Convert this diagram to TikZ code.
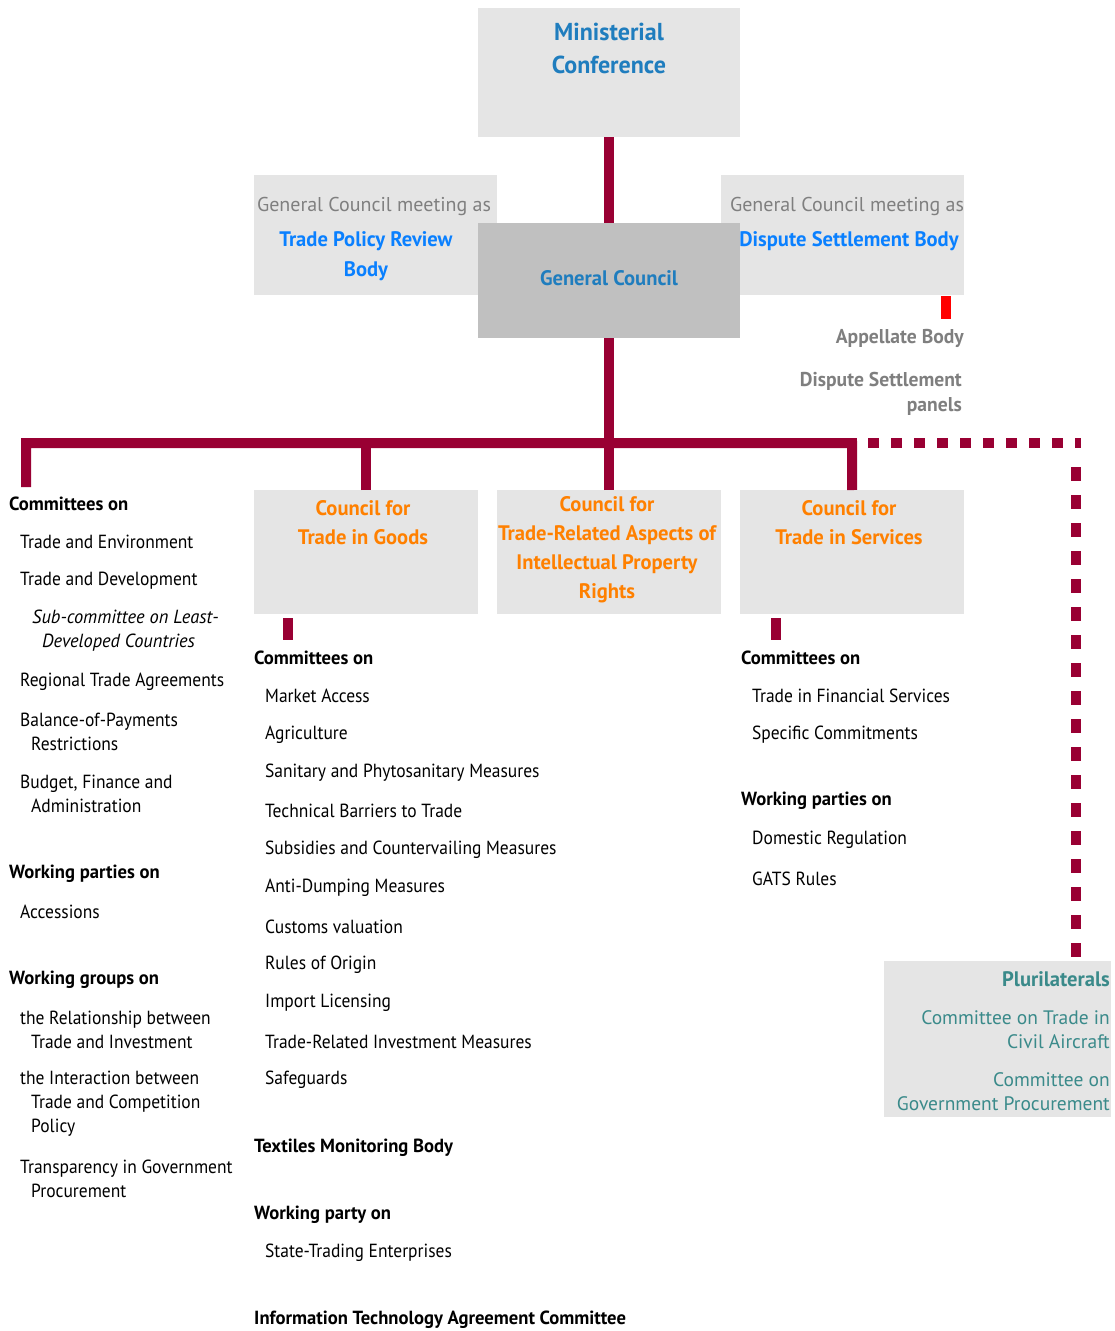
\documentclass[tikz,border=0pt]{standalone}
\usepackage{fontspec}
\setmainfont{PT Sans}[FakeStretch=0.92, BoldFeatures={FakeStretch=0.98}, ItalicFeatures={FakeStretch=0.97}]
\newfontfamily\widefont{PT Sans}
\usetikzlibrary{calc}
\definecolor{wmaroon}{HTML}{990033}
\definecolor{boxgray}{HTML}{E5E5E5}
\definecolor{gcgray}{HTML}{C0C0C0}
\definecolor{titleblue}{HTML}{1F7DBE}
\definecolor{brightblue}{HTML}{0A80FF}
\definecolor{worange}{HTML}{FF8000}
\definecolor{txtgray}{HTML}{7F7F7F}
\definecolor{wteal}{HTML}{3A8A8A}
\tikzset{
  box/.style={fill=boxgray, draw=none, inner sep=0, anchor=north west},
  conn/.style={line width=10pt, draw=wmaroon, line join=miter},
  txt/.style={inner sep=0, anchor=west, align=left, font=\fontsize{19}{24}\selectfont},
  hd/.style={inner sep=0, anchor=west, align=left, font=\fontsize{19}{24}\selectfont\bfseries},
  rtxt/.style={inner sep=0, anchor=east, align=right},
  ctxt/.style={inner sep=0, align=center},
}
\begin{document}
\begin{tikzpicture}[x=1pt,y=-1pt]
\useasboundingbox (0,0) rectangle (1115,1331);

% ---- top boxes
\node[box, minimum width=262pt, minimum height=129pt] (mc) at (478,8) {};
\node[box, minimum width=243pt, minimum height=120pt] (tprb) at (254,175) {};
\node[box, minimum width=243pt, minimum height=120pt] (dsb) at (721,175) {};
\node[box, fill=gcgray, minimum width=262pt, minimum height=115pt] (gc) at (478,223) {};

\node[ctxt, text=titleblue, font=\fontsize{24.5}{33}\selectfont\bfseries] (mct) at (609,48.5) {Ministerial\\Conference};
\node[ctxt, text=titleblue, font=\fontsize{21}{26}\selectfont\bfseries] (gct) at (609,278) {General Council};
\node[ctxt, text=txtgray, font=\fontsize{20}{24}\widefont] (tprba) at (374,206) {General Council meeting as};
\node[ctxt, text=brightblue, font=\fontsize{21}{30}\selectfont\bfseries] (tprbb) at (366,256) {Trade Policy Review\\Body};
\node[ctxt, text=txtgray, font=\fontsize{20}{24}\widefont] (dsba) at (847,206) {General Council meeting as};
\node[ctxt, text=brightblue, font=\fontsize{21}{30}\selectfont\bfseries] (dsbb) at (849,241) {Dispute Settlement Body};

\node[rtxt, text=txtgray, font=\fontsize{20}{25}\selectfont\bfseries] (ab) at (964,338) {Appellate Body};
\node[rtxt, text=txtgray, font=\fontsize{20}{25}\selectfont\bfseries] (dsp) at (962,393.5) {Dispute Settlement\\panels};

% ---- councils
\node[box, minimum width=224pt, minimum height=124pt] (goods) at (254,490) {};
\node[box, minimum width=224pt, minimum height=124pt] (trips) at (497,490) {};
\node[box, minimum width=224pt, minimum height=124pt] (svc) at (740,490) {};
\node[ctxt, text=worange, font=\fontsize{21}{29}\selectfont\bfseries] (goodst) at (363,522.5) {Council for\\Trade in Goods};
\node[ctxt, text=worange, font=\fontsize{21}{29}\selectfont\bfseries] (tripst) at (607,549.5) {Council for\\Trade-Related Aspects of\\Intellectual Property\\Rights};
\node[ctxt, text=worange, font=\fontsize{21}{29}\selectfont\bfseries] (svct) at (849,522.5) {Council for\\Trade in Services};

% ---- connectors
\coordinate (barR) at (852,443);
\coordinate (lcorner) at (26,487);
\draw[conn] (mc.south) -- (gc.north);
\draw[conn] (gc.south) -- (gc.south |- barR);
\draw[conn] (lcorner) |- (barR) -- (svc.north);
\draw[conn] (goods.north) -- (goods.north |- barR);
\draw[conn] (trips.north) -- (trips.north |- barR);
\coordinate (gsub) at ($(goods.south west)+(34,4)$);
\coordinate (gsubE) at ($(gsub)+(0,22)$);
\draw[conn] (gsub) -- (gsubE);
\coordinate (ssub) at ($(svc.south west)+(36,4)$);
\coordinate (ssubE) at ($(ssub)+(0,22)$);
\draw[conn] (ssub) -- (ssubE);
\coordinate (rb) at ($(dsb.south east)+(-18,1)$);
\coordinate (rbE) at ($(rb)+(0,23)$);
\draw[line width=10pt, draw=red] (rb) -- (rbE);

% ---- plurilaterals
\node[box, minimum width=227pt, minimum height=156pt] (plur) at (884,961) {};
\coordinate (dotS) at (868,443);
\coordinate (dotC) at (1076,443);
\draw[line width=10pt, draw=wmaroon, dash pattern=on 11pt off 12pt] (dotS) -- ($(dotC)+(5,0)$);
\draw[line width=10pt, draw=wmaroon, dash pattern=on 14pt off 14pt] ($(dotC)+(0,24)$) -- (plur.north -| dotC);
\node[rtxt, text=wteal, font=\fontsize{21}{26}\selectfont\bfseries] (plurh) at (1110,979) {Plurilaterals};
\node[rtxt, text=wteal, font=\fontsize{19.5}{24}\widefont] (plura) at (1110,1030) {Committee on Trade in\\Civil Aircraft};
\node[rtxt, text=wteal, font=\fontsize{19.5}{24}\widefont] (plurb) at (1110,1092) {Committee on\\Government Procurement};

% ---- left column
\node[hd] (l0) at (9,504) {Committees on};
\node[txt] (l1) at (20,542) {Trade and Environment};
\node[txt] (l2) at (20,581) {Trade and Development};
\node[txt, font=\fontsize{19}{24}\selectfont\itshape] (l3) at (32,631) {Sub-committee on Least-\\\hspace*{10pt}Developed Countries};
\node[txt] (l4) at (20,682) {Regional Trade Agreements};
\node[txt] (l5) at (20,732) {Balance-of-Payments\\\hspace*{11pt}Restrictions};
\node[txt] (l6) at (20,794) {Budget, Finance and\\\hspace*{11pt}Administration};
\node[hd] (l7) at (9,874) {Working parties on};
\node[txt] (l8) at (20,912) {Accessions};
\node[hd] (l9) at (9,980) {Working groups on};
\node[txt] (l10) at (20,1030) {the Relationship between\\\hspace*{11pt}Trade and Investment};
\node[txt] (l11) at (20,1104) {the Interaction between\\\hspace*{11pt}Trade and Competition\\\hspace*{11pt}Policy};
\node[txt] (l12) at (20,1179) {Transparency in Government\\\hspace*{11pt}Procurement};

% ---- middle column
\node[hd] (m0) at (254,658) {Committees on};
\node[txt] (m1) at (265,696) {Market Access};
\node[txt] (m2) at (265,735) {Agriculture};
\node[txt] (m3) at (265,773) {Sanitary and Phytosanitary Measures};
\node[txt] (m4) at (265,811) {Technical Barriers to Trade};
\node[txt] (m5) at (265,850) {Subsidies and Countervailing Measures};
\node[txt] (m6) at (265,888) {Anti-Dumping Measures};
\node[txt] (m7) at (265,927) {Customs valuation};
\node[txt] (m8) at (265,965) {Rules of Origin};
\node[txt] (m9) at (265,1003) {Import Licensing};
\node[txt] (m10) at (265,1042) {Trade-Related Investment Measures};
\node[txt] (m11) at (265,1080) {Safeguards};
\node[hd] (m12) at (254,1148) {Textiles Monitoring Body};
\node[hd] (m13) at (254,1215) {Working party on};
\node[txt] (m14) at (265,1253) {State-Trading Enterprises};
\node[hd] (m15) at (254,1320) {Information Technology Agreement Committee};

% ---- right column
\node[hd] (r0) at (741,658) {Committees on};
\node[txt] (r1) at (752,696) {Trade in Financial Services};
\node[txt] (r2) at (752,735) {Specific Commitments};
\node[hd] (r3) at (741,801) {Working parties on};
\node[txt] (r4) at (752,840) {Domestic Regulation};
\node[txt] (r5) at (752,879) {GATS Rules};
\end{tikzpicture}
\end{document}
